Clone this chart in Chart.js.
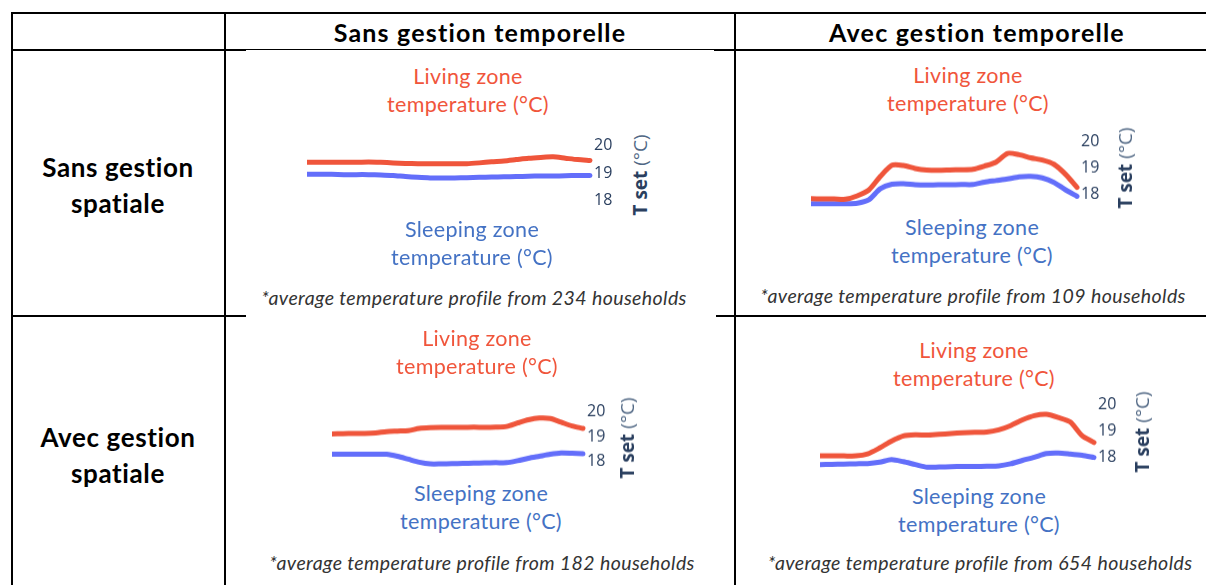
<!DOCTYPE html>
<html><head><meta charset="utf-8">
<script src="https://cdn.jsdelivr.net/npm/chart.js@4"></script>
<style>
html,body{margin:0;padding:0;background:#fff;}
body{width:1206px;height:585px;position:relative;overflow:hidden;font-family:Lato,'Open Sans',sans-serif;}
.ln{position:absolute;background:#000;}
.t{position:absolute;transform:translate(-50%,-50%);white-space:nowrap;text-align:center;}
.hdr{font-weight:bold;font-size:25px;letter-spacing:1.2px;color:#000;}
.row{font-weight:bold;font-size:26px;letter-spacing:0.6px;line-height:36px;color:#000;}
.liv{color:#F0553B;font-size:21.5px;letter-spacing:0.3px;line-height:28px;}
.slp{color:#4472C4;font-size:21.5px;letter-spacing:0.3px;line-height:28px;}
.note{font-style:italic;font-size:19.5px;letter-spacing:0.4px;color:#333;}
.ax{position:absolute;transform:translate(-50%,-50%) rotate(-90deg);white-space:nowrap;font-family:'Open Sans',sans-serif;font-size:19px;color:#2a3f5f;}
.ax b{font-weight:bold;}
.ax span{color:#506784;}
canvas{position:absolute;}
</style>
</head>
<body>
<script>
// ---- data ----
const HOURS = ['0h','1h','2h','3h','4h','5h','6h','7h','8h','9h','10h','11h','12h','13h','14h','15h','16h','17h','18h','19h','20h','21h','22h','23h'];
const Y_TICKS = [18, 19, 20];
const COL_HEADERS = ['Sans gestion temporelle', 'Avec gestion temporelle'];
const ROW_HEADERS = [['Sans gestion', 'spatiale'], ['Avec gestion', 'spatiale']];
const LIVING_LABEL = ['Living zone', 'temperature (°C)'];
const SLEEPING_LABEL = ['Sleeping zone', 'temperature (°C)'];
const HOUSEHOLDS = [234, 109, 182, 654];

// Sans gestion spatiale / Sans gestion temporelle
const living_SS = [19.40,19.40,19.40,19.40,19.40,19.41,19.40,19.38,19.36,19.35,19.35,19.35,19.35,19.35,19.38,19.42,19.45,19.50,19.55,19.58,19.60,19.55,19.50,19.47];
const sleeping_SS = [18.96,18.96,18.96,18.95,18.95,18.95,18.94,18.92,18.88,18.85,18.83,18.83,18.83,18.84,18.85,18.86,18.87,18.88,18.89,18.90,18.90,18.91,18.92,18.92];
// Sans gestion spatiale / Avec gestion temporelle
const living_SA = [17.83,17.82,17.82,17.81,17.94,18.16,18.68,19.10,19.09,18.98,18.92,18.91,18.92,18.93,18.95,19.07,19.22,19.55,19.50,19.38,19.30,19.14,18.76,18.26];
const sleeping_SA = [17.64,17.64,17.64,17.64,17.66,17.79,18.21,18.38,18.40,18.36,18.35,18.36,18.36,18.37,18.37,18.46,18.52,18.58,18.66,18.68,18.62,18.45,18.17,17.92];
// Avec gestion spatiale / Sans gestion temporelle
const living_AS = [19.11,19.12,19.13,19.13,19.15,19.20,19.22,19.24,19.33,19.36,19.37,19.37,19.37,19.38,19.37,19.38,19.41,19.55,19.68,19.75,19.73,19.58,19.43,19.33];
const sleeping_AS = [18.28,18.28,18.28,18.28,18.28,18.28,18.20,18.08,17.96,17.89,17.89,17.90,17.91,17.92,17.93,17.94,17.94,18.02,18.12,18.20,18.28,18.33,18.32,18.30];
// Avec gestion spatiale / Avec gestion temporelle
const living_AA = [18.05,18.05,18.05,18.05,18.13,18.35,18.61,18.81,18.85,18.84,18.87,18.90,18.93,18.95,18.96,19.04,19.20,19.42,19.58,19.63,19.51,19.34,18.82,18.56];
const sleeping_AA = [17.72,17.73,17.74,17.75,17.76,17.81,17.91,17.83,17.72,17.62,17.63,17.64,17.65,17.65,17.66,17.67,17.75,17.88,18.00,18.14,18.16,18.12,18.07,17.99];

// ---- layout helpers ----
function line(x, y, w, h) {
  const d = document.createElement('div');
  d.className = 'ln';
  d.style.cssText = `left:${x}px;top:${y}px;width:${w}px;height:${h}px;`;
  document.body.appendChild(d);
}
function text(cls, html, x, y) {
  const d = document.createElement('div');
  d.className = 't ' + cls;
  d.innerHTML = html;
  d.style.left = x + 'px';
  d.style.top = y + 'px';
  document.body.appendChild(d);
}
function axisTitle(x, y) {
  const d = document.createElement('div');
  d.className = 'ax';
  d.innerHTML = '<b>T set</b> <span>(°C)</span>';
  d.style.left = x + 'px';
  d.style.top = y + 'px';
  document.body.appendChild(d);
}

// table lines
line(12, 12, 1194, 2);
line(12, 48.5, 234, 2);
line(246, 49, 468, 1.2);
line(714, 48.5, 492, 2);
line(10.5, 12, 2, 573);
line(224, 12, 2, 573);
line(734, 12, 2, 573);
line(12, 315, 234, 2);
line(716, 315, 490, 2);

// headers
text('hdr', COL_HEADERS[0], 480, 32);
text('hdr', COL_HEADERS[1], 977, 32);
text('row', ROW_HEADERS[0].join('<br>'), 118, 185);
text('row', ROW_HEADERS[1].join('<br>'), 118, 455);

const AXIS_W = 36;
function makeChart(living, sleeping, box, yMin, yMax) {
  const c = document.createElement('canvas');
  c.width = box.w + AXIS_W; c.height = box.h;
  c.style.left = box.x + 'px'; c.style.top = box.y + 'px';
  c.style.width = (box.w + AXIS_W) + 'px'; c.style.height = box.h + 'px';
  document.body.appendChild(c);
  new Chart(c, {
    type: 'line',
    data: {
      labels: HOURS,
      datasets: [
        {data: living, borderColor: '#EF553B', borderWidth: 5, pointRadius: 0, tension: 0.25, clip: false, borderCapStyle: 'round', borderJoinStyle: 'round'},
        {data: sleeping, borderColor: '#636EFA', borderWidth: 5, pointRadius: 0, tension: 0.25, clip: false, borderCapStyle: 'round', borderJoinStyle: 'round'}
      ]
    },
    options: {
      responsive: false, animation: false, devicePixelRatio: 1,
      layout: {padding: 0},
      plugins: {legend: {display: false}, tooltip: {enabled: false}},
      scales: {
        x: {display: false, offset: false},
        y: {
          position: 'right', min: yMin, max: yMax,
          grid: {display: false, drawTicks: false}, border: {display: false},
          ticks: {padding: 4, color: '#2a3f5f', font: {family: "'Open Sans', sans-serif", size: 16}},
          afterBuildTicks: s => { s.ticks = Y_TICKS.map(v => ({value: v})); },
          afterFit: s => { s.width = AXIS_W; s.paddingTop = 0; s.paddingBottom = 0; }
        }
      }
    }
  });
}

// chart 1
makeChart(living_SS, sleeping_SS, {x: 307, y: 134.8, w: 283, h: 82.5}, 17.4, 20.4);
text('liv', LIVING_LABEL.join('<br>'), 468, 90);
text('slp', SLEEPING_LABEL.join('<br>'), 472, 243);
text('note', `*average temperature profile from ${HOUSEHOLDS[0]} households`, 474, 297);
axisTitle(640, 175);

// chart 2
makeChart(living_SA, sleeping_SA, {x: 811, y: 131.0, w: 266.4, h: 78.6}, 17.4, 20.4);
text('liv', LIVING_LABEL.join('<br>'), 968, 89);
text('slp', SLEEPING_LABEL.join('<br>'), 972, 241);
text('note', `*average temperature profile from ${HOUSEHOLDS[1]} households`, 973, 295);
axisTitle(1125, 168);

// chart 3
makeChart(living_AS, sleeping_AS, {x: 331.7, y: 402.4, w: 251.6, h: 73.5}, 17.4, 20.4);
text('liv', LIVING_LABEL.join('<br>'), 477, 352);
text('slp', SLEEPING_LABEL.join('<br>'), 481, 507);
text('note', `*average temperature profile from ${HOUSEHOLDS[2]} households`, 482, 562);
axisTitle(627, 438);

// chart 4
makeChart(living_AA, sleeping_AA, {x: 820, y: 393.9, w: 274.2, h: 78.9}, 17.4, 20.4);
text('liv', LIVING_LABEL.join('<br>'), 974, 364);
text('slp', SLEEPING_LABEL.join('<br>'), 979, 510);
text('note', `*average temperature profile from ${HOUSEHOLDS[3]} households`, 980, 562);
axisTitle(1142, 432);
</script>
</body></html>
